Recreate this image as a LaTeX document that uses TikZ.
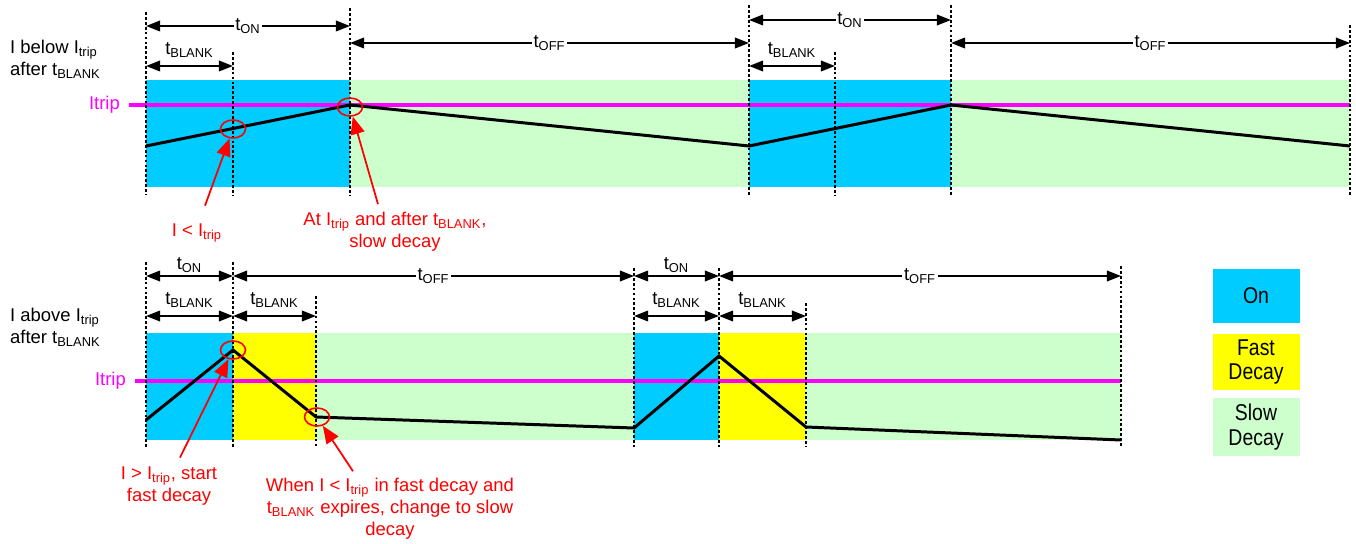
\documentclass[tikz,border=0pt]{standalone}
\usepackage{fontspec}
\setmainfont{Liberation Sans}
\newfontfamily\legendfont[FakeStretch=0.85]{Liberation Sans}
\usetikzlibrary{arrows.meta,positioning,calc,shapes.geometric}
\definecolor{onblue}{RGB}{0,204,255}
\definecolor{fastyellow}{RGB}{255,255,0}
\definecolor{slowgreen}{RGB}{204,255,204}
\definecolor{tripmagenta}{RGB}{255,0,255}
\newcommand{\sbs}[1]{\textsubscript{#1}}

\begin{document}
\begin{tikzpicture}[x=0.02cm, y=-0.02cm,
  font=\fontsize{10.5}{12.5}\selectfont,
  dim/.style={line width=1pt, {Triangle[length=8pt,width=6pt]}-{Triangle[length=8pt,width=6pt]}},
  onlab/.style={midway, fill=white, inner sep=1pt},
  toplab/.style={midway, above=1pt},
  guide/.style={line width=0.75pt, dash pattern=on 1.6pt off 1.2pt},
  wave/.style={line width=1.7pt},
  trip/.style={tripmagenta, line width=1.9pt},
  ring/.style={draw=red, line width=0.9pt, ellipse, minimum width=0.5cm, minimum height=0.36cm, inner sep=0pt},
  note/.style={red, align=center},
  callout/.style={red, line width=1pt, -{Triangle[length=10pt,width=8pt]}},
  legbox/.style={minimum width=1.74cm, minimum height=1.07cm, align=center, font=\legendfont\fontsize{13}{14}\selectfont}
]
\useasboundingbox (0,0) rectangle (1356,544);

% ---- Top: I below Itrip after tBLANK ----
% Phase bands
\fill[onblue] (146,80) rectangle (350,187);
\fill[slowgreen] (350,80) rectangle (749,187);
\fill[onblue] (749,80) rectangle (951,187);
\fill[slowgreen] (951,80) rectangle (1350,187);

% Trip level and coil current
\draw[trip] (129,105) -- (1350,105);
\node[tripmagenta, anchor=east] (triptop) at (126,105) {Itrip};
\draw[wave] (146,146) -- (350,105) -- (749,146) -- (951,105) -- (1350,146);

% Timing marks
\foreach \x/\ya in {146/12, 233/52, 350/8, 749/5, 835/52, 951/5, 1350/25}
  \draw[guide] (\x,\ya) -- (\x,195);

\foreach \xa/\xb/\y/\lab in {146/350/26/ON, 350/749/43/OFF, 749/951/20/ON, 951/1350/43/OFF}
  \draw[dim] (\xa,\y) -- (\xb,\y) node[onlab] {t\sbs{\lab}};
\foreach \xa/\xb in {146/233, 749/835}
  \draw[dim] (\xa,66) -- (\xb,66) node[toplab] {t\sbs{BLANK}};

\node[anchor=west, align=left] (belowlab) at (4,59) {I below I\sbs{trip}\\after t\sbs{BLANK}};

% Callouts
\node[ring] (r1) at (233,129) {};
\node[ring] (r2) at (350,107) {};
\node[note] (n1) at (197,233) {I < I\sbs{trip}};
\node[note] (n2) at (395,232) {At I\sbs{trip} and after t\sbs{BLANK},\\slow decay};
\draw[callout] ($(n1.north)+(8,-12)$) -- (r1);
\draw[callout] ($(n2.north)+(-17,-2)$) -- (r2);

% ---- Bottom: I above Itrip after tBLANK ----
% Phase bands
\fill[onblue] (146,333) rectangle (233,440);
\fill[fastyellow] (233,333) rectangle (316,440);
\fill[slowgreen] (316,333) rectangle (634,440);
\fill[onblue] (634,333) rectangle (719,440);
\fill[fastyellow] (719,333) rectangle (806,440);
\fill[slowgreen] (806,333) rectangle (1121,440);

% Trip level and coil current
\draw[trip] (135,381) -- (1121,381);
\node[tripmagenta, anchor=east] (tripbot) at (132,381) {Itrip};
\draw[wave] (146,420) -- (233,350) -- (316,417) -- (634,428) -- (719,356) -- (806,427) -- (1121,440);

% Timing marks
\foreach \x/\ya in {146/262, 233/262, 316/296, 634/268, 719/268, 806/303, 1121/266}
  \draw[guide] (\x,\ya) -- (\x,447);

\foreach \xa/\xb in {146/233, 634/719}
  \draw[dim] (\xa,276) -- (\xb,276) node[toplab, above=-2pt] {t\sbs{ON}};
\foreach \xa/\xb in {233/634, 719/1121}
  \draw[dim] (\xa,276) -- (\xb,276) node[onlab] {t\sbs{OFF}};
\foreach \xa/\xb in {146/233, 233/316, 634/719, 719/806}
  \draw[dim] (\xa,316) -- (\xb,316) node[toplab] {t\sbs{BLANK}};

\node[anchor=west, align=left] (abovelab) at (4,327) {I above I\sbs{trip}\\after t\sbs{BLANK}};

% Callouts
\node[ring] (r3) at (233,350) {};
\node[ring] (r4) at (317,417) {};
\node[note] (n3) at (169,486) {I > I\sbs{trip}, start\\fast decay};
\node[note] (n4) at (390,509) {When I < I\sbs{trip} in fast decay and\\t\sbs{BLANK} expires, change to slow\\decay};
\draw[callout] ($(n3.north)+(11,-3)$) -- (r3);
\draw[callout] ($(n4.north)+(-37,-1)$) -- (r4);

% ---- Legend ----
\node[legbox, fill=onblue] (legon) at (1256,296) {On};
\node[legbox, fill=fastyellow] (legfast) at (1256,362) {Fast\\Decay};
\node[legbox, fill=slowgreen] (legslow) at (1256,427) {Slow\\Decay};

\end{tikzpicture}
\end{document}
